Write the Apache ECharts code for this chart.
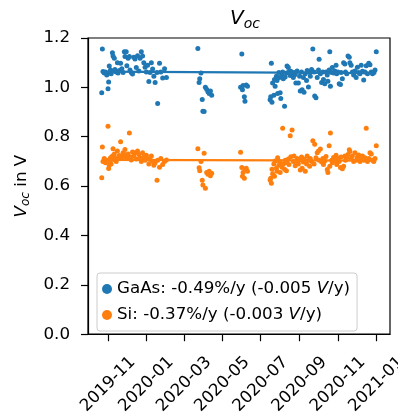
<!DOCTYPE html>
<html><head><meta charset="utf-8">
<script src="https://cdn.jsdelivr.net/npm/echarts@6/dist/echarts.min.js"></script>
<style>html,body{margin:0;padding:0;background:#fff;overflow:hidden;width:398px;height:417px}#c{width:440px;height:417px}</style>
</head><body><div id="c"></div>
<script>
const dates = [
'2019-10-22','2019-10-23','2019-10-24','2019-10-26','2019-10-28','2019-10-30','2019-11-01','2019-11-02','2019-11-03','2019-11-04',
'2019-11-05','2019-11-06','2019-11-08','2019-11-09','2019-11-10','2019-11-11','2019-11-12','2019-11-14','2019-11-16','2019-11-17',
'2019-11-19','2019-11-21','2019-11-23','2019-11-25','2019-11-27','2019-11-28','2019-11-30','2019-12-01','2019-12-03','2019-12-05',
'2019-12-06','2019-12-08','2019-12-10','2019-12-12','2019-12-14','2019-12-16','2019-12-18','2019-12-20','2019-12-22','2019-12-24',
'2019-12-26','2019-12-28','2019-12-30','2020-01-01','2020-01-03','2020-01-05','2020-01-07','2020-01-09','2020-01-11','2020-01-13',
'2020-01-15','2020-01-18','2020-01-19','2020-01-22','2020-01-24','2020-01-27','2020-01-30','2020-02-02',
'2020-03-23','2020-03-25','2020-03-26','2020-03-28','2020-03-30','2020-03-31','2020-04-02','2020-04-04','2020-04-06','2020-04-08',
'2020-04-10','2020-04-12','2020-04-14',
'2020-05-30','2020-06-01','2020-06-02','2020-06-03','2020-06-05','2020-06-06','2020-06-08','2020-06-10',
'2020-07-16','2020-07-17','2020-07-18','2020-07-19','2020-07-20','2020-07-22','2020-07-23','2020-07-24','2020-07-26','2020-07-27',
'2020-07-28','2020-07-30','2020-07-31','2020-08-01','2020-08-02','2020-08-04','2020-08-05','2020-08-06','2020-08-08','2020-08-09',
'2020-08-11','2020-08-12','2020-08-14','2020-08-15','2020-08-17','2020-08-18','2020-08-20','2020-08-22','2020-08-23','2020-08-25',
'2020-08-26','2020-08-28','2020-08-30','2020-09-01','2020-09-02','2020-09-04','2020-09-05','2020-09-07','2020-09-08','2020-09-10',
'2020-09-12','2020-09-13','2020-09-15','2020-09-17','2020-09-18','2020-09-20','2020-09-22','2020-09-24','2020-09-25','2020-09-27',
'2020-09-29','2020-10-01','2020-10-02','2020-10-04','2020-10-06','2020-10-08','2020-10-09','2020-10-11','2020-10-13','2020-10-15',
'2020-10-16','2020-10-18','2020-10-19','2020-10-20','2020-10-22','2020-10-23','2020-10-25','2020-10-27','2020-10-29','2020-10-30',
'2020-11-01','2020-11-03','2020-11-05','2020-11-06','2020-11-08','2020-11-10','2020-11-12','2020-11-13','2020-11-15','2020-11-17',
'2020-11-19','2020-11-20','2020-11-22','2020-11-24','2020-11-26','2020-11-28','2020-11-30','2020-12-02','2020-12-04','2020-12-06',
'2020-12-08','2020-12-10','2020-12-12','2020-12-14','2020-12-16','2020-12-18','2020-12-20','2020-12-22','2020-12-24','2020-12-26',
'2020-12-28','2020-12-30','2021-01-01'
];
const gaas = [
0.978,1.155,1.064,1.058,1.062,1.050,0.994,1.022,1.087,1.060,
1.070,1.055,1.140,1.127,1.066,1.118,1.072,1.062,1.100,1.058,
1.068,1.098,1.075,1.060,1.144,1.125,1.144,1.088,1.118,1.125,
1.070,1.060,1.054,1.122,1.115,1.080,1.128,1.066,1.118,1.144,
1.127,1.100,1.082,1.062,1.090,1.024,1.060,1.100,1.074,1.045,
1.020,1.060,0.935,1.098,1.062,1.038,1.075,1.040,
1.157,1.020,1.035,1.058,0.951,0.903,0.902,1.000,0.992,0.982,
0.975,0.985,0.968,
1.000,1.135,0.990,1.008,0.962,0.944,1.010,1.005,
0.950,0.962,1.098,0.940,1.018,0.968,1.032,1.005,1.045,1.028,
0.975,1.060,1.040,0.978,0.955,1.050,1.062,1.035,0.924,1.042,
1.058,1.087,1.080,1.062,1.048,1.065,1.056,1.040,1.060,1.052,
1.018,1.066,1.018,1.045,0.985,1.062,0.990,1.040,0.980,1.055,
1.028,1.068,1.002,1.060,1.045,1.072,1.155,1.062,0.965,0.958,
1.040,1.070,1.114,1.055,1.020,1.062,1.032,1.015,1.062,1.050,
1.025,1.070,1.144,1.005,1.060,1.080,1.058,1.066,1.090,1.055,
1.062,1.015,1.012,1.060,1.035,1.100,1.095,1.062,1.055,1.127,
1.122,1.100,1.090,1.062,1.050,1.066,1.040,1.082,1.060,1.055,
1.090,1.065,1.030,1.062,1.088,1.055,1.098,1.092,1.062,1.055,
1.060,1.070,1.144
];
const si = [
0.634,0.758,0.700,0.712,0.695,0.705,0.842,0.671,0.684,0.700,
0.715,0.690,0.722,0.751,0.708,0.730,0.715,0.700,0.742,0.712,
0.724,0.780,0.718,0.735,0.728,0.748,0.715,0.722,0.730,0.815,
0.718,0.706,0.738,0.722,0.735,0.710,0.742,0.728,0.715,0.700,
0.735,0.718,0.705,0.725,0.712,0.690,0.708,0.722,0.700,0.684,
0.695,0.624,0.705,0.676,0.712,0.688,0.700,0.706,
0.751,0.674,0.662,0.700,0.624,0.604,0.733,0.591,0.655,0.648,
0.660,0.642,0.652,
0.737,0.675,0.640,0.655,0.632,0.668,0.672,0.660,
0.625,0.632,0.612,0.668,0.650,0.690,0.640,0.702,0.672,0.660,
0.715,0.685,0.700,0.655,0.692,0.676,0.834,0.690,0.668,0.705,
0.662,0.695,0.710,0.688,0.804,0.719,0.827,0.700,0.722,0.682,
0.698,0.712,0.690,0.705,0.665,0.718,0.672,0.698,0.710,0.660,
0.690,0.722,0.705,0.680,0.712,0.700,0.784,0.690,0.770,0.715,
0.735,0.742,0.705,0.750,0.698,0.712,0.688,0.702,0.720,0.667,
0.655,0.764,0.680,0.815,0.705,0.695,0.716,0.702,0.725,0.688,
0.712,0.700,0.675,0.718,0.670,0.680,0.722,0.705,0.715,0.728,
0.747,0.740,0.712,0.722,0.700,0.735,0.705,0.718,0.726,0.700,
0.710,0.722,0.705,0.715,0.834,0.700,0.712,0.735,0.730,0.705,
0.700,0.712,0.764
];
const trendDates = ['2019-10-22', '2021-01-01'];
const gaasTrend = [1.064, 1.058];
const siTrend = [0.7065, 0.7030];
const xTickDates = ['2019-11-01','2020-01-01','2020-03-01','2020-05-01','2020-07-01','2020-09-01','2020-11-01','2021-01-01'];
const legendLabels = {
  'GaAs': 'GaAs: -0.49%/y (-0.005 {i|V}/y)',
  'Si': 'Si: -0.37%/y (-0.003 {i|V}/y)'
};

const FONT = 'DejaVu Sans';
const FS = 16.7;
const toTs = s => new Date(s + 'T00:00:00').getTime();
const first = toTs(dates[0]), last = toTs(dates[dates.length - 1]);
const pad = (last - first) * 0.05;
const xTicks = xTickDates.map(toTs);

const chart = echarts.init(document.getElementById('c'), null, {renderer: 'canvas'});
chart.setOption({
  animation: false,
  backgroundColor: '#fff',
  title: {
    text: '{v|V}{s|oc}',
    left: 240, top: 2, textAlign: 'center',
    textStyle: {
      fontWeight: 'normal',
      rich: {
        v: {fontFamily: FONT, fontStyle: 'italic', fontWeight: 'normal', fontSize: 20, color: '#000', lineHeight: 24, verticalAlign: 'middle'},
        s: {fontFamily: FONT, fontStyle: 'italic', fontWeight: 'normal', fontSize: 14, color: '#000', verticalAlign: 'bottom'}
      }
    }
  },
  grid: {left: 88, right: 50, top: 38, bottom: 79, show: true, borderColor: '#000', borderWidth: 1.2, backgroundColor: 'transparent'},
  legend: {
    orient: 'vertical', left: 97, top: 273,
    data: ['GaAs', 'Si'],
    icon: 'circle', itemWidth: 10, itemHeight: 10, itemGap: 8,
    padding: [7, 7, 7, 5],
    backgroundColor: 'rgba(255,255,255,0.8)', borderColor: '#cccccc', borderWidth: 1, borderRadius: 3,
    formatter: n => legendLabels[n],
    textStyle: {
      fontFamily: FONT, fontSize: FS, color: '#000', lineHeight: 18,
      rich: {i: {fontFamily: FONT, fontStyle: 'italic', fontSize: FS, color: '#000', lineHeight: 18}}
    }
  },
  xAxis: {
    type: 'value', min: first - pad, max: last + pad,
    axisLine: {show: true, lineStyle: {color: '#000', width: 1.2}},
    axisTick: {show: true, length: 7, lineStyle: {color: '#000', width: 1.2}, customValues: xTicks},
    splitLine: {show: false}, minorTick: {show: false},
    axisLabel: {
      customValues: xTicks, rotate: 45, align: 'center', verticalAlign: 'middle', margin: 50,
      fontFamily: FONT, fontSize: FS, color: '#000', hideOverlap: false,
      formatter: v => { const d = new Date(v); return d.getFullYear() + '-' + String(d.getMonth() + 1).padStart(2, '0'); }
    }
  },
  yAxis: {
    type: 'value', min: 0, max: 1.2, interval: 0.2,
    name: '{v|V}{s|oc}{n| in V}', nameLocation: 'middle', nameRotate: 90, nameGap: 56,
    nameTextStyle: {
      rich: {
        v: {fontFamily: FONT, fontStyle: 'italic', fontSize: FS, color: '#000', lineHeight: 20, verticalAlign: 'middle'},
        s: {fontFamily: FONT, fontStyle: 'italic', fontSize: 12, color: '#000', verticalAlign: 'bottom'},
        n: {fontFamily: FONT, fontSize: FS, color: '#000', lineHeight: 20, verticalAlign: 'middle'}
      }
    },
    axisLine: {show: true, lineStyle: {color: '#000', width: 1.2}},
    axisTick: {show: true, length: 7, lineStyle: {color: '#000', width: 1.2}},
    splitLine: {show: false},
    axisLabel: {fontFamily: FONT, fontSize: FS, color: '#000', margin: 18, formatter: v => v.toFixed(1)}
  },
  series: [
    {name: 'GaAs', type: 'scatter', symbol: 'circle', symbolSize: 5, itemStyle: {color: '#1f77b4', opacity: 1},
     data: dates.map((d, i) => [toTs(d), gaas[i]])},
    {name: 'Si', type: 'scatter', symbol: 'circle', symbolSize: 5, itemStyle: {color: '#ff7f0e', opacity: 1},
     data: dates.map((d, i) => [toTs(d), si[i]])},
    {name: 'GaAs fit', type: 'line', symbol: 'none', lineStyle: {color: '#1f77b4', width: 2.2}, z: 3,
     data: trendDates.map((d, i) => [toTs(d), gaasTrend[i]])},
    {name: 'Si fit', type: 'line', symbol: 'none', lineStyle: {color: '#ff7f0e', width: 2.2}, z: 3,
     data: trendDates.map((d, i) => [toTs(d), siTrend[i]])}
  ]
});
</script></body></html>
